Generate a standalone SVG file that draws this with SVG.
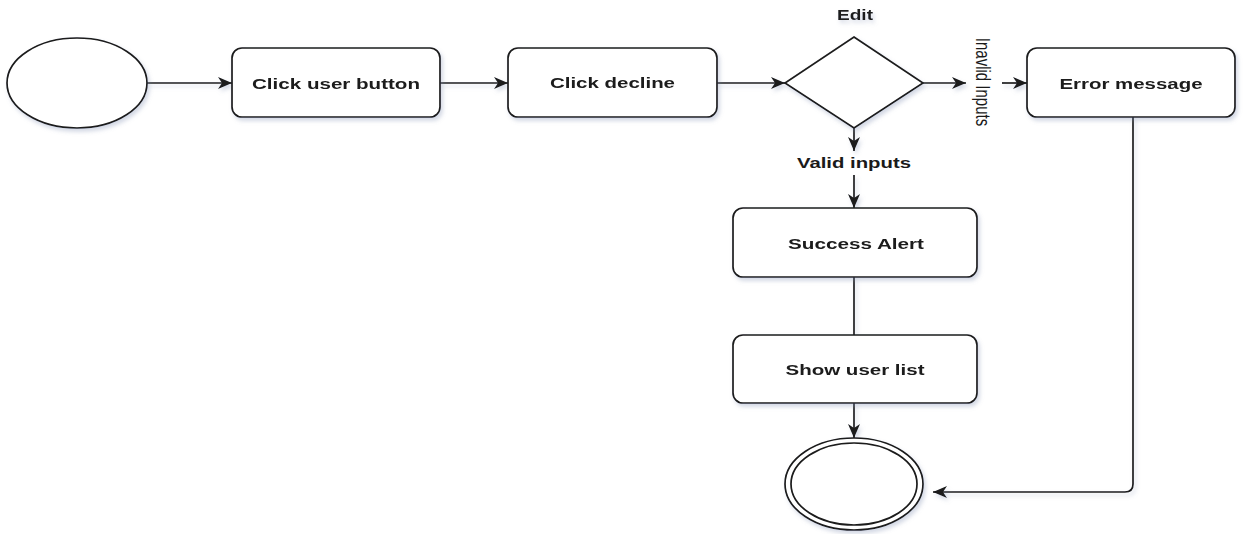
<svg xmlns="http://www.w3.org/2000/svg" width="1244" height="534" viewBox="0 0 1244 534">
  <style>
    .shape { fill: #ffffff; stroke: #1a1a1a; stroke-width: 1.7; }
    .edge { fill: none; stroke: #1a1a1a; stroke-width: 1.7; }
    .label { font-family: "Liberation Sans", Arial, sans-serif; font-size: 15px; font-weight: bold; fill: #1a1a1a; text-anchor: middle; }
    .side { font-family: "Liberation Sans", Arial, sans-serif; font-size: 15px; fill: #1a1a1a; text-anchor: middle; }
  </style>
  <defs>
    <filter id="shadow" x="-10%" y="-10%" width="130%" height="140%">
      <feDropShadow dx="2" dy="3" stdDeviation="2" flood-color="#7f8db0" flood-opacity="0.35"/>
    </filter>
    <marker id="arrow" markerWidth="15" markerHeight="12" refX="14" refY="6" orient="auto" markerUnits="userSpaceOnUse">
      <path d="M0,0 L14,6 L0,12 L4,6 Z" fill="#1a1a1a"/>
    </marker>
  </defs>
  <rect width="1244" height="534" fill="#ffffff"/>

  <g id="connectors" filter="url(#shadow)">
    <line class="edge" x1="147" y1="83" x2="232" y2="83" marker-end="url(#arrow)"/>
    <line class="edge" x1="440" y1="83" x2="508" y2="83" marker-end="url(#arrow)"/>
    <line class="edge" x1="717" y1="83" x2="785" y2="83" marker-end="url(#arrow)"/>
    <line class="edge" x1="923" y1="83" x2="966" y2="83" marker-end="url(#arrow)"/>
    <line class="edge" x1="1002" y1="83" x2="1027" y2="83" marker-end="url(#arrow)"/>
    <line class="edge" x1="854" y1="128" x2="854" y2="151" marker-end="url(#arrow)"/>
    <line class="edge" x1="854" y1="175" x2="854" y2="208" marker-end="url(#arrow)"/>
    <line class="edge" x1="854" y1="277" x2="854" y2="335"/>
    <line class="edge" x1="854" y1="403" x2="854" y2="438" marker-end="url(#arrow)"/>
    <path class="edge" d="M1133 117 V484 Q1133 492 1125 492 H933" marker-end="url(#arrow)"/>
  </g>

  <g id="start" filter="url(#shadow)">
    <ellipse class="shape" cx="77" cy="83" rx="70" ry="45"/>
  </g>

  <g id="click-user-button" filter="url(#shadow)">
    <rect class="shape" x="232" y="48" width="208" height="69" rx="10"/>
    <text class="label" x="336" y="89" textLength="168" lengthAdjust="spacingAndGlyphs">Click user button</text>
  </g>

  <g id="click-decline" filter="url(#shadow)">
    <rect class="shape" x="508" y="48" width="209" height="69" rx="10"/>
    <text class="label" x="612.5" y="88" textLength="125" lengthAdjust="spacingAndGlyphs">Click decline</text>
  </g>

  <g id="edit" filter="url(#shadow)">
    <polygon class="shape" points="854,37 923,83 854,128 785,83"/>
    <text class="label" x="855" y="20" textLength="36" lengthAdjust="spacingAndGlyphs">Edit</text>
  </g>

  <g id="invalid-label">
    <text class="side" transform="translate(976 82) rotate(90) scale(1 1.35)" x="0" y="0">Inavlid Inputs</text>
  </g>

  <g id="valid-label">
    <text class="label" x="854" y="168" textLength="114" lengthAdjust="spacingAndGlyphs">Valid inputs</text>
  </g>

  <g id="error-message" filter="url(#shadow)">
    <rect class="shape" x="1027" y="48" width="208" height="69" rx="10"/>
    <text class="label" x="1131" y="89" textLength="143" lengthAdjust="spacingAndGlyphs">Error message</text>
  </g>

  <g id="success-alert" filter="url(#shadow)">
    <rect class="shape" x="733" y="208" width="244" height="69" rx="10"/>
    <text class="label" x="856" y="249" textLength="136" lengthAdjust="spacingAndGlyphs">Success Alert</text>
  </g>

  <g id="show-user-list" filter="url(#shadow)">
    <rect class="shape" x="733" y="335" width="244" height="68" rx="10"/>
    <text class="label" x="855" y="375" textLength="139" lengthAdjust="spacingAndGlyphs">Show user list</text>
  </g>

  <g id="end" filter="url(#shadow)">
    <ellipse class="shape" cx="854" cy="484" rx="69" ry="46"/>
    <ellipse class="shape" cx="854" cy="484" rx="63" ry="41"/>
  </g>
</svg>
